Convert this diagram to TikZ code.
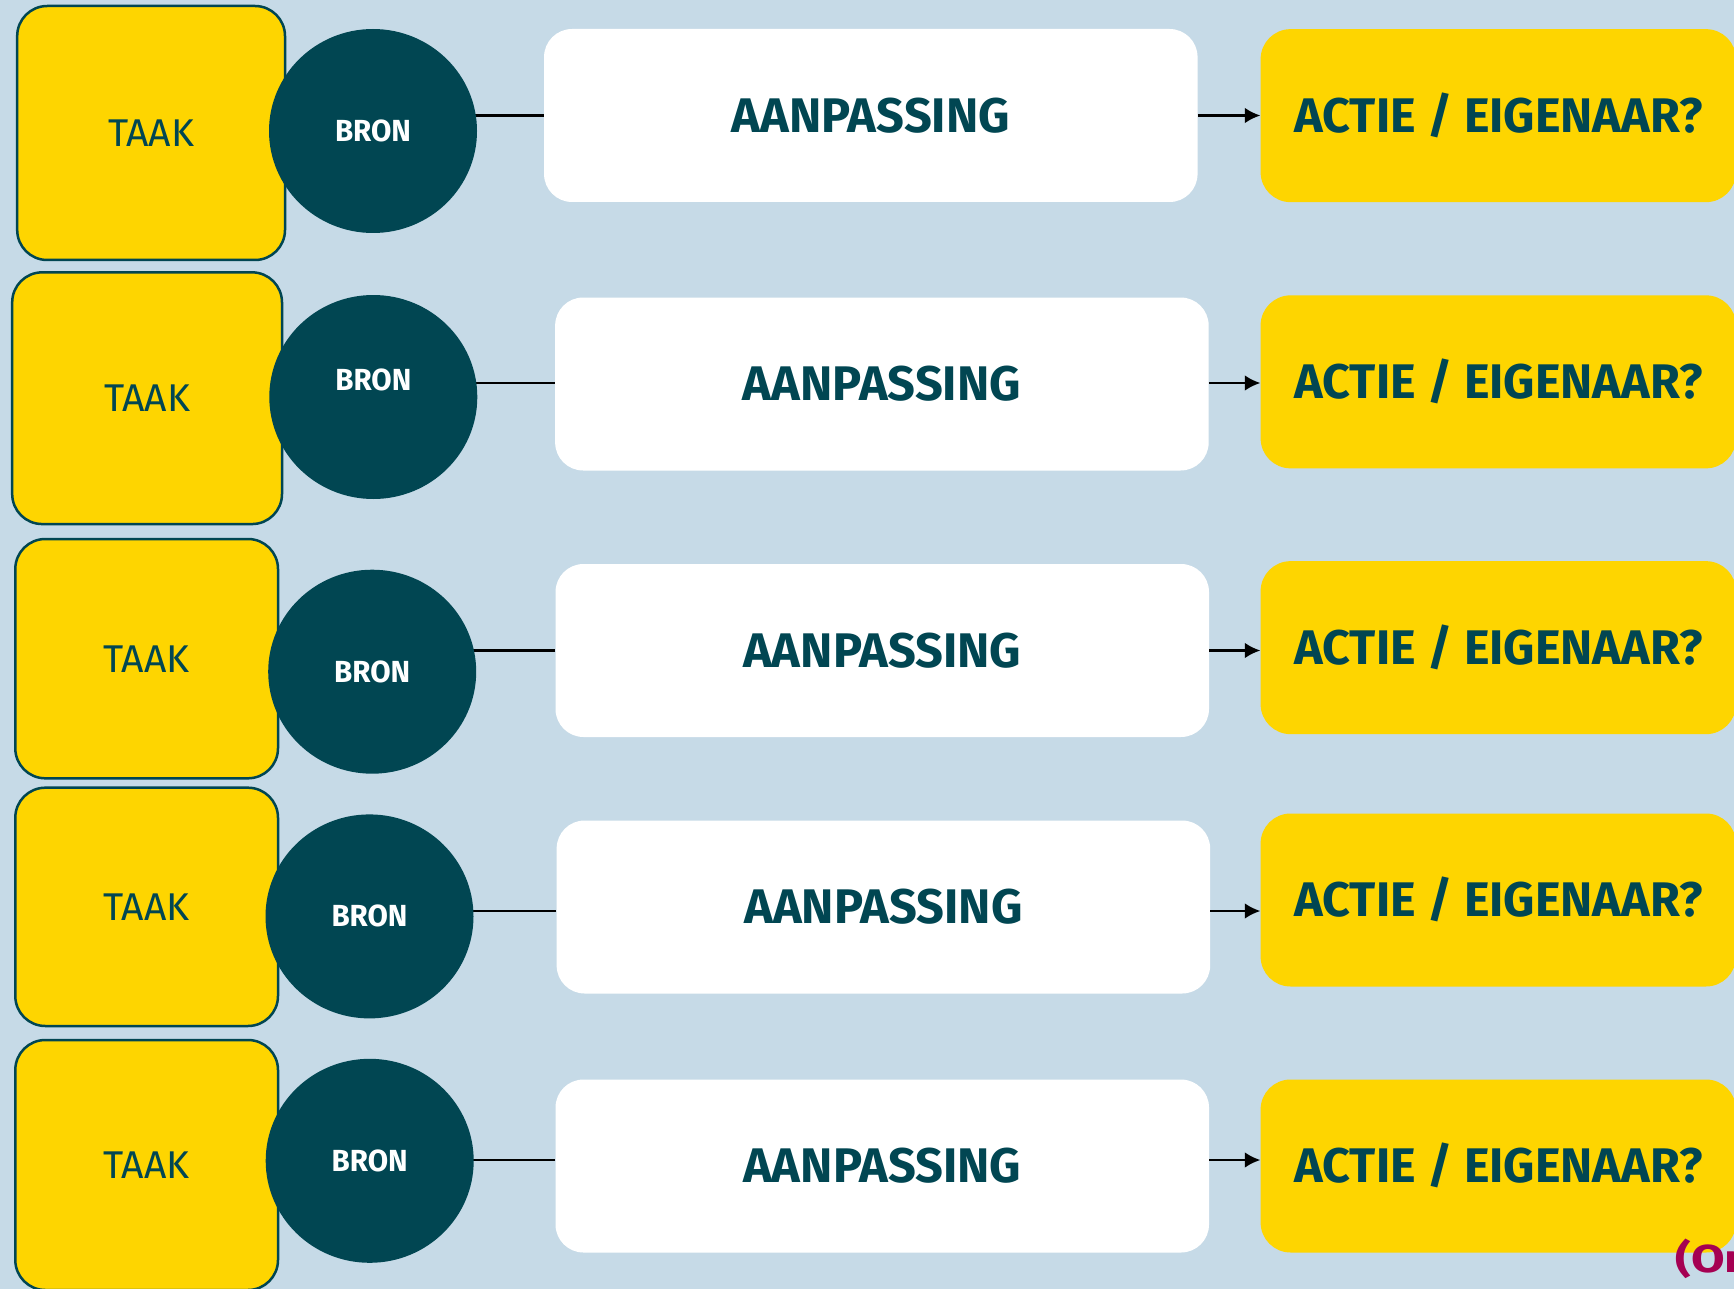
\documentclass[tikz,border=0pt]{standalone}
\usepackage{fontspec}
\setmainfont{Fira Sans}
\usetikzlibrary{arrows.meta,shapes.geometric,backgrounds}
\definecolor{bgblue}{RGB}{198,218,231}
\definecolor{tyellow}{RGB}{254,213,0}
\definecolor{tteal}{RGB}{1,70,82}
\definecolor{tmag}{RGB}{165,0,82}
\newcommand{\fitw}[2]{\resizebox{#1}{\height}{#2}}
\tikzset{
  taakbox/.style={draw=tteal, line width=2.5pt, fill=tyellow, rounded corners=30pt,
    inner sep=0pt, text=tteal, font=\fontsize{38.7}{40}\selectfont,
    text height=26.7pt, text depth=0pt},
  bronc/.style={ellipse, fill=tteal, inner sep=0pt, minimum width=208pt,
    minimum height=204pt, text=white, font=\bfseries\fontsize{30.5}{32}\selectfont,
    text height=21pt, text depth=0pt},
  aanbox/.style={fill=white, rounded corners=28pt, inner sep=0pt, minimum width=653.5pt,
    minimum height=173pt, text=tteal, font=\bfseries\fontsize{48.6}{50}\selectfont,
    text height=33.5pt, text depth=0pt},
  actbox/.style={fill=tyellow, rounded corners=30pt, inner sep=0pt, minimum width=475.4pt,
    minimum height=173pt, text=tteal, font=\bfseries\fontsize{48.6}{50}\selectfont,
    text height=33.5pt, text depth=0pt},
  conn/.style={draw=black, line width=2.5pt},
  arr/.style={draw=black, line width=2.5pt, -{Latex[length=15.6pt,width=15.7pt]}},
  note/.style={anchor=base west, inner sep=0pt, text=tmag, font=\bfseries\fontsize{39}{40}\selectfont}
}
\begin{document}
\begin{tikzpicture}[x=1pt,y=-1pt]
\useasboundingbox (0,0) rectangle (1734,1289);
% TAAK boxes
\node[taakbox, minimum width=267.8pt, minimum height=254pt] (t1) at (151.1,133) {\fitw{86pt}{TAAK}};
\node[taakbox, minimum width=269.8pt, minimum height=251.7pt] (t2) at (147.1,398.2) {\fitw{86pt}{TAAK}};
\node[taakbox, minimum width=262.7pt, minimum height=239.3pt] (t3) at (146.65,658.65) {\fitw{86pt}{TAAK}};
\node[taakbox, minimum width=262.7pt, minimum height=238.3pt] (t4) at (146.65,906.85) {\fitw{86pt}{TAAK}};
\node[taakbox, minimum width=262.7pt, minimum height=250pt] (t5) at (146.65,1165) {\fitw{86pt}{TAAK}};
% BRON circles
\node[bronc] (b1) at (373,131) {\fitw{76pt}{BRON}};
\node[bronc] (b2) at (373.3,397) {\raisebox{17pt}{\fitw{76pt}{BRON}}};
\node[bronc] (b3) at (372.2,671.7) {\fitw{76pt}{BRON}};
\node[bronc] (b4) at (369.5,916.4) {\fitw{76pt}{BRON}};
\node[bronc] (b5) at (369.7,1160.8) {\fitw{76pt}{BRON}};
% AANPASSING boxes
\node[aanbox] (w1) at (870.8,115.5) {\fitw{278pt}{AANPASSING}};
\node[aanbox] (w2) at (881.9,384) {\fitw{278pt}{AANPASSING}};
\node[aanbox] (w3) at (882.25,650.5) {\fitw{278pt}{AANPASSING}};
\node[aanbox] (w4) at (883.4,907) {\fitw{278pt}{AANPASSING}};
\node[aanbox] (w5) at (882.25,1166) {\fitw{278pt}{AANPASSING}};
% ACTIE boxes
\node[actbox] (a1) at (1498.3,115.65) {\fitw{408pt}{ACTIE / EIGENAAR?}};
\node[actbox] (a2) at (1498.3,381.85) {\fitw{408pt}{ACTIE / EIGENAAR?}};
\node[actbox] (a3) at (1498.3,647.65) {\fitw{408pt}{ACTIE / EIGENAAR?}};
\node[actbox] (a4) at (1498.3,900) {\fitw{408pt}{ACTIE / EIGENAAR?}};
\node[actbox] (a5) at (1498.3,1166) {\fitw{408pt}{ACTIE / EIGENAAR?}};
% note
\node[note] (n1) at (1675,1272) {\scalebox{1.25}[1]{(Om}};
\begin{pgfonlayer}{background}
  \fill[bgblue] (0,0) rectangle (1734,1289);
  \path[conn] (w1.west) -- (w1.west -| b1.center);
  \path[conn] ([yshift=1pt]w2.west) -- ([yshift=1pt]w2.west -| b2.center);
  \path[conn] (w3.west) -- (w3.west -| b3.center);
  \path[conn] ([yshift=-4pt]w4.west) -- ([yshift=-4pt]w4.west -| b4.center);
  \path[conn] ([yshift=6pt]w5.west) -- ([yshift=6pt]w5.west -| b5.center);
\end{pgfonlayer}
\path[arr] (w1.east) -- (w1.east -| a1.west);
\path[arr] ([yshift=1pt]w2.east) -- ([yshift=1pt]w2.east -| a2.west);
\path[arr] (w3.east) -- (w3.east -| a3.west);
\path[arr] ([yshift=-4pt]w4.east) -- ([yshift=-4pt]w4.east -| a4.west);
\path[arr] ([yshift=6pt]w5.east) -- ([yshift=6pt]w5.east -| a5.west);
\end{tikzpicture}
\end{document}
